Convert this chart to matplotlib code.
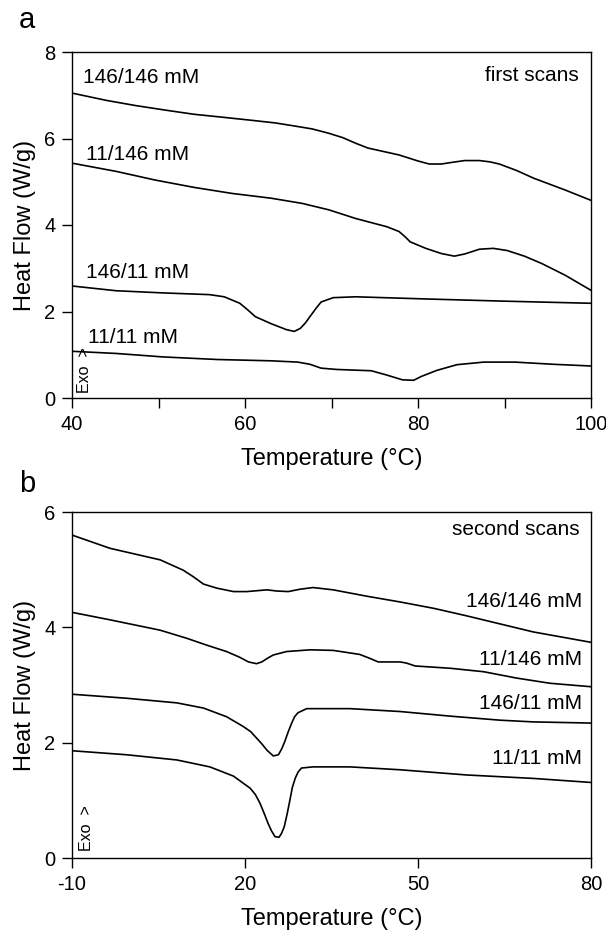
import numpy as np
import matplotlib.pyplot as plt

plt.rcParams['font.family'] = ['Liberation Sans', 'DejaVu Sans']
plt.rcParams['axes.unicode_minus'] = False

# ---- panel a: first scans (temperature in degC, heat flow in W/g) ----
a_t_146_146 = [40, 44, 47.4, 51, 54.1, 57.5, 60.8, 63.5, 65.7, 67.8, 69.7, 71.3, 72.8,
               74.2, 76, 77.8, 80, 81.3, 82.7, 84, 85.4, 87.1, 88.3, 89.4, 91.4, 93.4,
               97, 100]
a_hf_146_146 = [7.05, 6.88, 6.76, 6.65, 6.56, 6.49, 6.42, 6.36, 6.29, 6.22, 6.12, 6.02,
                5.89, 5.78, 5.70, 5.62, 5.48, 5.41, 5.41, 5.45, 5.49, 5.49, 5.46, 5.41,
                5.26, 5.08, 4.81, 4.57]

a_t_11_146 = [40, 45.1, 49.6, 54.1, 58.5, 63.0, 66.6, 69.7, 72.8, 76.4, 77.8, 78.5,
              79.1, 80.9, 82.7, 84.2, 85.4, 87.1, 88.7, 90.3, 92.3, 94.3, 97, 100]
a_hf_11_146 = [5.43, 5.24, 5.04, 4.87, 4.73, 4.62, 4.50, 4.35, 4.15, 3.96, 3.85, 3.73,
               3.61, 3.46, 3.34, 3.28, 3.33, 3.44, 3.46, 3.41, 3.28, 3.11, 2.84, 2.49]

a_t_146_11 = [40, 45.1, 50.5, 55.9, 57.6, 59.4, 60.3, 61.2, 63.0, 64.8, 65.7, 66.4,
              67.0, 67.5, 68.2, 68.8, 70.2, 72.8, 80.9, 89.8, 100]
a_hf_146_11 = [2.59, 2.48, 2.43, 2.39, 2.34, 2.19, 2.04, 1.88, 1.72, 1.58, 1.54, 1.61,
               1.74, 1.88, 2.07, 2.22, 2.32, 2.34, 2.29, 2.24, 2.19]

a_t_11_11 = [40, 45.1, 50.5, 56.8, 63.0, 66.1, 67.5, 68.8, 70.6, 74.6, 76.4, 78.2,
             79.5, 80.4, 82.2, 84.5, 87.6, 91.2, 95.6, 100]
a_hf_11_11 = [1.08, 1.03, 0.95, 0.89, 0.86, 0.83, 0.78, 0.69, 0.66, 0.63, 0.53, 0.42,
              0.41, 0.50, 0.64, 0.77, 0.83, 0.83, 0.78, 0.74]

# ---- panel b: second scans ----
b_t_146_146 = [-10, -3.4, 5.3, 9.3, 11.0, 12.8, 15.1, 18.0, 20.3, 23.8, 25.5, 27.5,
               29.5, 31.8, 35.3, 41.1, 46.9, 52.7, 58.4, 64.2, 70.0, 80]
b_hf_146_146 = [5.60, 5.37, 5.17, 4.99, 4.88, 4.75, 4.68, 4.62, 4.62, 4.65, 4.63, 4.62,
                4.66, 4.69, 4.65, 4.54, 4.44, 4.33, 4.20, 4.06, 3.92, 3.74]

b_t_11_146 = [-10, -3.4, 5.3, 9.9, 13.4, 16.8, 19.1, 20.6, 22.0, 22.9, 24.0, 24.9, 27.2,
              31.3, 35.3, 39.9, 41.7, 43.1, 46.9, 48.0, 49.5, 55.6, 61.4, 67.1, 72.9, 80]
b_hf_11_146 = [4.26, 4.13, 3.95, 3.81, 3.69, 3.58, 3.48, 3.40, 3.37, 3.40, 3.47, 3.52, 3.58,
               3.61, 3.60, 3.53, 3.46, 3.40, 3.40, 3.38, 3.33, 3.29, 3.23, 3.12, 3.03, 2.97]

b_t_146_11 = [-10, -0.5, 8.2, 12.8, 16.8, 19.7, 21.0, 22.0, 23.0, 23.8, 24.9, 25.8,
              26.4, 26.9, 27.5, 28.1, 28.6, 29.2, 30.7, 38.2, 46.9, 55.6, 64.2, 70.0, 80]
b_hf_146_11 = [2.84, 2.77, 2.69, 2.60, 2.45, 2.28, 2.19, 2.08, 1.97, 1.87, 1.77, 1.79,
               1.90, 2.02, 2.19, 2.34, 2.45, 2.52, 2.59, 2.59, 2.54, 2.46, 2.39, 2.36, 2.34]

b_t_11_11 = [-10, -0.5, 8.2, 13.9, 18.0, 20.9, 21.8, 22.6, 23.3, 24.0, 24.6, 25.2, 25.9,
             26.3, 26.8, 27.3, 27.8, 28.2, 28.7, 29.2, 29.8, 31.8, 38.2, 46.9, 58.4,
             70.0, 80]
b_hf_11_11 = [1.86, 1.79, 1.70, 1.58, 1.42, 1.21, 1.10, 0.95, 0.78, 0.60, 0.47, 0.37, 0.36,
              0.42, 0.54, 0.76, 1.01, 1.22, 1.38, 1.49, 1.56, 1.58, 1.58, 1.53, 1.44,
              1.38, 1.31]

labels = ['146/146 mM', '11/146 mM', '146/11 mM', '11/11 mM']

a_xticks = [40, 60, 80, 100]
a_xminor = [50, 70, 90]
a_yticks = [0, 2, 4, 6, 8]
b_xticks = [-10, 20, 50, 80]
b_yticks = [0, 2, 4, 6]

W, H = 606, 932
fig = plt.figure(figsize=(W / 100, H / 100), dpi=100)
ax_a = fig.add_axes([72 / W, 1 - 398 / H, 519 / W, 346 / H])
ax_b = fig.add_axes([72 / W, 1 - 858 / H, 519 / W, 346 / H])

for t, hf in [(a_t_146_146, a_hf_146_146), (a_t_11_146, a_hf_11_146),
              (a_t_146_11, a_hf_146_11), (a_t_11_11, a_hf_11_11)]:
    ax_a.plot(t, hf, 'k-', lw=1.2)
for t, hf in [(b_t_146_146, b_hf_146_146), (b_t_11_146, b_hf_11_146),
              (b_t_146_11, b_hf_146_11), (b_t_11_11, b_hf_11_11)]:
    ax_b.plot(t, hf, 'k-', lw=1.2)

# axes styling
ax_a.set_xlim(40, 100)
ax_a.set_ylim(0, 8)
ax_a.set_xticks(a_xticks)
ax_a.set_xticks(a_xminor, minor=True)
ax_a.set_yticks(a_yticks)
ax_b.set_xlim(-10, 80)
ax_b.set_ylim(0, 6)
ax_b.set_xticks(b_xticks)
ax_b.set_yticks(b_yticks)

for ax in (ax_a, ax_b):
    ax.tick_params(which='both', direction='out', length=7, width=1,
                   labelsize=14.5, pad=5, colors='black')
    for s in ax.spines.values():
        s.set_linewidth(1.0)
    ax.set_xlabel('Temperature (\u00b0C)', fontsize=17, labelpad=10)
    ax.set_ylabel('Heat Flow (W/g)', fontsize=17, labelpad=6)

# curve labels, panel a (left aligned)
a_lab_x = [41.3, 41.6, 41.6, 41.9]
a_lab_y = [7.42, 5.64, 2.90, 1.41]
for s, x, y in zip(labels, a_lab_x, a_lab_y):
    ax_a.text(x, y, s, fontsize=15, ha='left', va='center')
ax_a.text(98.6, 7.45, 'first scans', fontsize=15, ha='right', va='center')
ax_a.text(41.5, 0.12, 'Exo  >', fontsize=11.5, rotation=90, ha='center', va='bottom')

# curve labels, panel b (right aligned)
b_lab_y = [4.44, 3.45, 2.68, 1.73]
for s, y in zip(labels, b_lab_y):
    ax_b.text(78.4, y, s, fontsize=15, ha='right', va='center')
ax_b.text(78.0, 5.69, 'second scans', fontsize=15, ha='right', va='center')
ax_b.text(-7.45, 0.12, 'Exo  >', fontsize=11.5, rotation=90, ha='center', va='bottom')

fig.text(19 / W, 1 - 28 / H, 'a', fontsize=21, ha='left', va='baseline')
fig.text(19 / W, 1 - 492 / H, 'b', fontsize=21, ha='left', va='baseline')

fig.savefig('out.png', dpi=100)
